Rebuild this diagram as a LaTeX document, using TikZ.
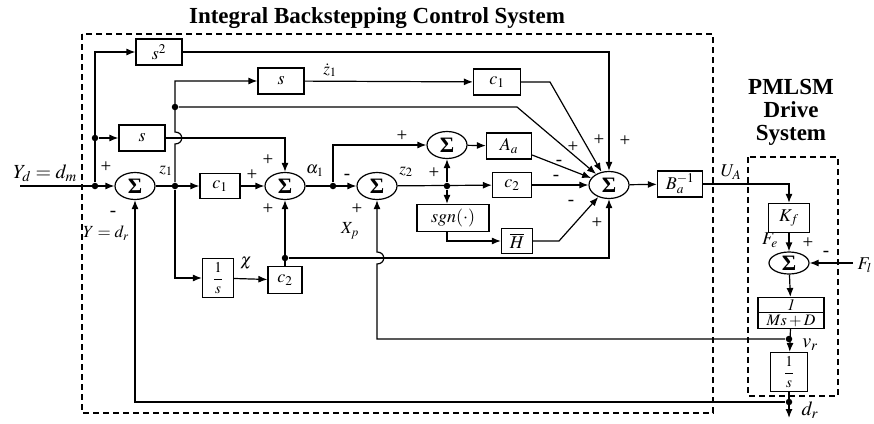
\documentclass[tikz,border=0pt]{standalone}
\usepackage{mathptmx}
\usepackage{fontspec}
\setmainfont{Liberation Serif}
\usetikzlibrary{arrows.meta}
\usetikzlibrary{shapes.geometric,shapes.multipart}

\tikzset{
  blk/.style={draw, rectangle, minimum width=#1, minimum height=26pt, inner sep=1pt,
    font=\fontsize{18}{19}\selectfont},
  blk/.default=40pt,
  fracblk/.style={blk=#1, minimum height=39pt, inner sep=0pt, font=\fontsize{15}{16}\selectfont},
  sumnode/.style={draw, ellipse, minimum width=40pt, minimum height=27pt, inner sep=0pt,
    font=\fontsize{22}{22}\selectfont\bfseries},
  dot/.style={circle, fill=black, inner sep=0pt, minimum size=6.5pt},
  lbl/.style={inner sep=0pt, font=\fontsize{17}{17}\selectfont},
  sgnl/.style={inner sep=0pt, font=\fontsize{19}{19}\selectfont},
  dashbox/.style={dash pattern=on 6pt off 4pt, line width=1.6pt},
  ttl/.style={inner sep=0pt, font=\fontsize{23}{23}\selectfont\bfseries}
}

\begin{document}
\begin{tikzpicture}[x=1pt, y=-1pt, line width=1.2pt, >={Latex[length=9pt,width=7pt]}]
\useasboundingbox (0,0) rectangle (874,423);

% the two dashed frames and their titles
\draw[dashbox] (82,34) rectangle (713,413);
\draw[dashbox] (748,157) rectangle (838,396);
\node[ttl] (title) at (377,18) {Integral Backstepping Control System};
\node[ttl, align=center] (title2) at (791,112) {PMLSM\\Drive\\System};

% blocks of the controller
\node[blk=46pt] (s2) at (159,52) {$s^2$};
\node[blk=46pt] (sA) at (142,138) {$s$};
\node[blk=46pt] (sB) at (281,81) {$s$};
\node[blk=47pt] (c1a) at (497,82) {$c_1$};
\node[blk=40pt, minimum height=25pt] (c1b) at (220,186) {$c_1$};
\node[fracblk=31pt] (int) at (218,278) {$\displaystyle\frac{1}{s}$};
\node[blk=34pt, minimum height=27pt] (c2a) at (285,280) {$c_2$};
\node[blk=45pt] (Aa) at (509,146) {$A_a$};
\node[blk=39pt, minimum height=25pt] (c2b) at (512,185) {$c_2$};
\node[blk=72pt, minimum height=27pt, inner sep=0pt] (sgn) at (453,218) {$sgn(\cdot)$};
\node[blk=31pt, minimum height=25pt] (Hbar) at (517,241) {$\overline{H}$};
\node[blk=45pt] (Binv) at (680,184) {$B_a^{-1}$};

% summing junctions
\node[sumnode] (sum1) at (135,186) {Σ};
\node[sumnode] (sum2) at (285,186) {Σ};
\node[sumnode] (sum3) at (377,186) {Σ};
\node[sumnode] (sum4) at (447,145) {Σ};
\node[sumnode] (sum5) at (609,185) {Σ};

% plant
\node[blk=41pt, minimum height=29pt] (Kf) at (789,218) {$K_f$};
\node[sumnode, minimum height=22pt] (sum6) at (789,263) {Σ};
\node[draw, rectangle split, rectangle split parts=2, minimum width=66pt, inner sep=1.5pt,
  font=\fontsize{16}{17}\selectfont] (plant) at (791,313) {$\mathit{1}$\nodepart{two}$Ms+D$};
\node[fracblk=37pt] (int2) at (789,372) {$\displaystyle\frac{1}{s}$};

% branch points
\node[dot] (d0) at (95,186) {};
\node[dot] (d1) at (95,138) {};
\node[dot] (z1dot) at (175,186) {};
\node[dot] (tap) at (175,107) {};
\node[dot] (c2dot) at (285,258) {};
\node[dot] (a1dot) at (333,186) {};
\node[dot] (z2dot) at (447,186) {};
\node[dot] (vdot) at (789,339) {};
\node[dot] (ddot) at (789,402) {};
\coordinate (in) at (20,186);
\coordinate (dout) at (789,418);
\coordinate (Flin) at (853,263);

% connectors
\draw[->] (in) -- (sum1);
\draw[->] (d0) |- (s2);
\draw[->] (d1) -- (sA);
\draw[->] (s2) -| (sum5);
\draw[->] (sA) -| (sum2);
\draw[->] (z1dot) -- (175,144) .. controls (184,144) and (184,132) .. (175,132) -- (z1dot |- sB) -- (sB);
\draw[->] (tap) -- (517,107) -- (sum5);
\draw[->] (sB) -- (c1a);
\draw[->] (c1a) -- (550,82) -- (sum5);
\draw[->] (sum1) -- (c1b);
\draw[->] (c1b) -- (sum2);
\draw[->] (z1dot) |- (int);
\draw[->] (int) -- (c2a);
\draw[->] (c2a) -- (sum2);
\draw[->] (c2dot) -| (sum5);
\draw[->] (sum2) -- (sum3);
\draw[->] (a1dot) |- (sum4);
\draw[->] (sum4) -- (Aa);
\draw[->] (Aa) -- (sum5);
\draw[->] (sum3) -- (c2b);
\draw[->] (z2dot) -- (sum4);
\draw[->] (z2dot) -- (z2dot |- sgn.north);
\draw[->] (c2b) -- (sum5);
\draw[->] (z2dot |- sgn.south) |- (Hbar);
\draw[->] (Hbar) -- (559,241) -- (sum5);
\draw[->] (sum5) -- (Binv);
\draw[->] (Binv) -| (Kf);
\draw[->] (Kf) -- (sum6);
\draw[->] (Flin) -- (sum6);
\draw[->] (sum6) -- (plant);
\draw[->] (plant) -- (int2);
\draw[->] (int2) -- (dout);
\draw[->] (vdot) -- (377,339) -- (377,264) .. controls (386,264) and (386,252) .. (377,252) -- (sum3);
\draw[->] (ddot) -| (sum1);

% signal names
\node[lbl, font=\fontsize{20}{20}\selectfont\boldmath] (Yd) at (45,173) {$Y_d = d_m$};
\node[lbl] (Ydr) at (106,233) {$Y = d_r$};
\node[lbl] (z1) at (166,171) {$z_1$};
\node[lbl] (z1d) at (330,70) {$\dot z_1$};
\node[lbl] (chi) at (246,263) {$\chi$};
\node[lbl] (al1) at (315,171) {$\alpha_1$};
\node[lbl] (z2) at (406,172) {$z_2$};
\node[lbl] (Xp) at (350,231) {$X_p$};
\node[lbl, font=\fontsize{18}{18}\selectfont\boldmath] (UA) at (731,172) {$U_A$};
\node[lbl, font=\fontsize{18}{18}\selectfont\boldmath] (Fe) at (770,240) {$F_e$};
\node[lbl, font=\fontsize{18}{18}\selectfont\boldmath, anchor=west] (Fl) at (857,265) {$F_l$};
\node[lbl, font=\fontsize{20}{20}\selectfont\boldmath] (vr) at (810,345) {$v_r$};
\node[lbl, font=\fontsize{20}{20}\selectfont\boldmath] (dr) at (810,410) {$d_r$};

% signs
\node[sgnl] (p1) at (106,167) {+};
\node[sgnl] (m1) at (113,214) {-};
\node[sgnl] (p2a) at (268,160) {+};
\node[sgnl] (p2b) at (252,175) {+};
\node[sgnl] (p2c) at (268,209) {+};
\node[sgnl] (m3) at (347,177) {-};
\node[sgnl] (p3) at (357,209) {+};
\node[sgnl] (p4a) at (402,136) {+};
\node[sgnl] (p4b) at (434,173) {+};
\node[sgnl] (p5a) at (573,147) {+};
\node[sgnl] (p5b) at (599,140) {+};
\node[sgnl] (p5c) at (625,141) {+};
\node[sgnl] (m5a) at (559,163) {-};
\node[sgnl] (m5b) at (556,178) {-};
\node[sgnl] (m5c) at (571,203) {-};
\node[sgnl] (p5d) at (597,223) {+};
\node[sgnl] (p6) at (808,243) {+};
\node[sgnl] (m6) at (826,254) {-};

\end{tikzpicture}
\end{document}
